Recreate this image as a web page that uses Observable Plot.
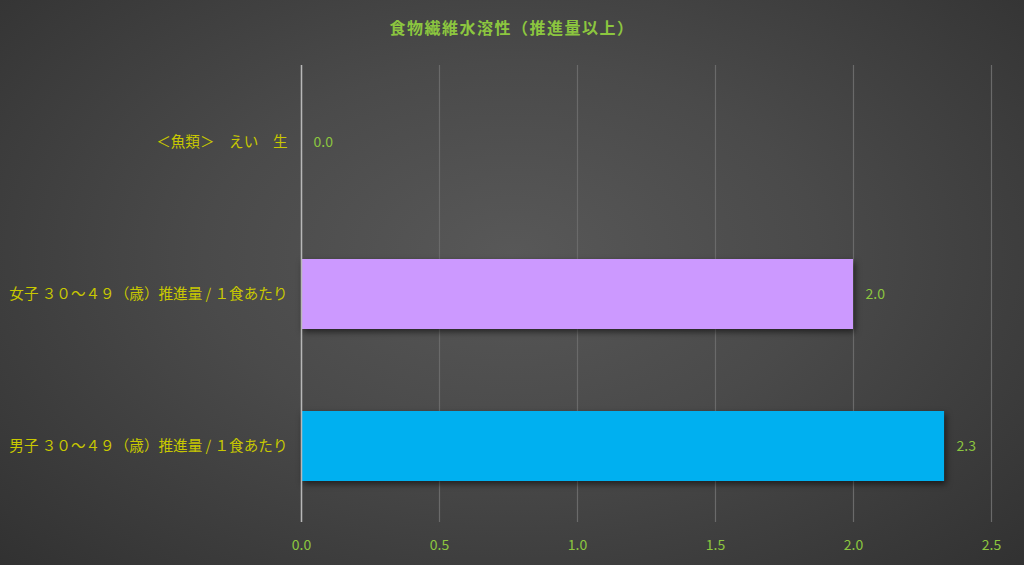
<!DOCTYPE html>
<html>
<head>
<meta charset="utf-8">
<script src="https://cdn.jsdelivr.net/npm/d3@7"></script>
<script src="https://cdn.jsdelivr.net/npm/@observablehq/plot@0.6"></script>
<style>
  html, body { margin: 0; padding: 0; }
  #wrap {
    width: 1024px; height: 565px; overflow: hidden;
    background: radial-gradient(ellipse 75% 85% at 50% 45%, #585858 0%, #4a4a4a 40%, #2e2e2e 100%);
    font-family: "Noto Sans CJK JP", "Noto Sans", sans-serif;
  }
  #title {
    height: 50px; line-height: 54px; text-align: center;
    color: #8cc63f; font-weight: bold; font-size: 16px; letter-spacing: 1.5px;
  }
  #chart svg { background: transparent; display: block; }
  #chart g[aria-label="bar"] rect { filter: drop-shadow(2px 3px 3px rgba(0,0,0,0.55)); }
</style>
</head>
<body>
<div id="wrap">
  <div id="title">食物繊維水溶性（推進量以上）</div>
  <div id="chart"></div>
</div>
<script>
const categories = ["＜魚類＞　えい　生", "女子 ３０～４９（歳）推進量 / １食あたり", "男子 ３０～４９（歳）推進量 / １食あたり"];
const values = [0.0, 2.0, 2.33];
const barColors = ["#999999", "#cc99ff", "#00b0f0"];
const xTicks = [0, 0.5, 1.0, 1.5, 2.0, 2.5];

const data = categories.map((c, i) => ({cat: c, v: values[i], color: barColors[i]}));

const chart = Plot.plot({
  width: 1024,
  height: 515,
  marginLeft: 301,
  marginRight: 33,
  marginTop: 15,
  marginBottom: 43,
  style: {background: "transparent", fontFamily: "'Noto Sans CJK JP', 'Noto Sans', sans-serif", fontSize: "14px"},
  x: {domain: [0, 2.5], ticks: xTicks, tickFormat: d3.format(".1f"), label: null},
  y: {domain: categories, paddingInner: 0.54, paddingOuter: 0.27, label: null},
  marks: [
    Plot.gridX(xTicks, {stroke: "#6a6a6a", strokeOpacity: 1, strokeWidth: 1.2}),
    Plot.barX(data, {y: "cat", x: "v", fill: "color"}),
    Plot.ruleX([0], {stroke: "#b8b8b8", strokeWidth: 1.5}),
    Plot.text(data, {y: "cat", x: "v", text: d => d3.format(".1f")(d.v), dx: 12, textAnchor: "start", fill: "#8cc63f", fontSize: 14}),
    Plot.axisX({ticks: xTicks, tickFormat: d3.format(".1f"), tickSize: 0, tickPadding: 18, color: "#8cc63f", fontSize: 14}),
    Plot.axisY({tickSize: 0, tickPadding: 14, color: "#c8c800", fontSize: 14.6})
  ]
});
document.getElementById("chart").appendChild(chart);
</script>
</body>
</html>
